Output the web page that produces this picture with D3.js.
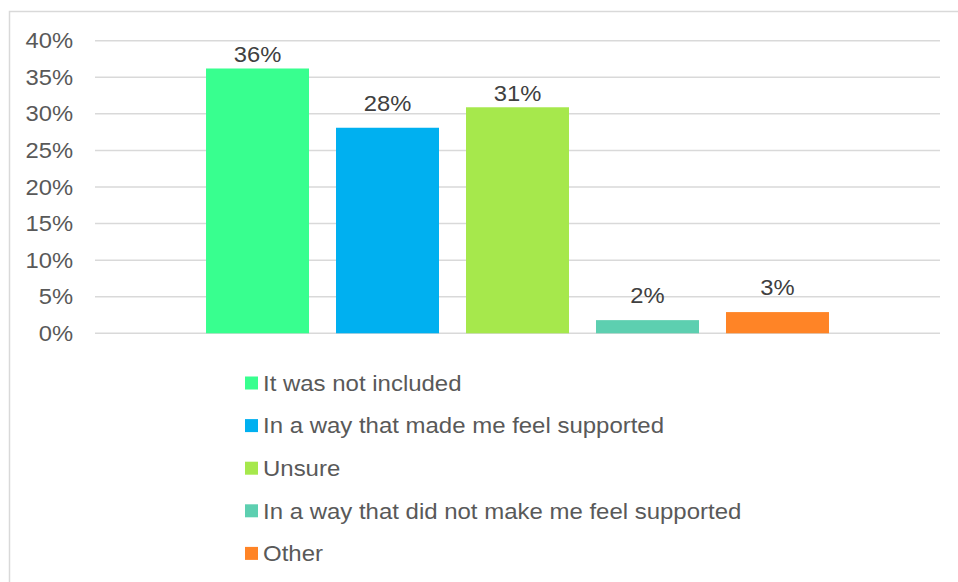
<!DOCTYPE html>
<html>
<head>
<meta charset="utf-8">
<script src="https://cdn.jsdelivr.net/npm/d3@7"></script>
<style>
  html, body { margin: 0; padding: 0; background: #fff; }
  svg { display: block; font-family: "Liberation Sans", Arial, sans-serif; }
</style>
</head>
<body>
<svg id="chart" width="958" height="582"></svg>
<script>
// Survey responses (share of respondents)
const categories = [
  "It was not included",
  "In a way that made me feel supported",
  "Unsure",
  "In a way that did not make me feel supported",
  "Other"
];
const values = [0.362, 0.281, 0.309, 0.018, 0.029];
const colors = ["#38FF8F", "#00B0F0", "#A6E84C", "#5DCFB0", "#FF8426"];
const yTicks = [0, 0.05, 0.10, 0.15, 0.20, 0.25, 0.30, 0.35, 0.40];

const FONT_SIZE = 22;
const STRETCH = 1.08;         // slightly wide text rendering
const LEGEND_STRETCH = 1.09;
const pct = d3.format(".0%");

const svg = d3.select("#chart");

// outer chart frame
svg.append("rect")
  .attr("x", 9.5).attr("y", 11.5)
  .attr("width", 980).attr("height", 600)
  .attr("fill", "none").attr("stroke", "#D9D9D9").attr("stroke-width", 1.5);

const plot = { left: 95, right: 940, top: 40.7, bottom: 333.3 };

const x = d3.scaleBand()
  .domain(categories)
  .range([plot.left, plot.right])
  .paddingInner(0.2077)
  .paddingOuter(0.854);

const y = d3.scaleLinear()
  .domain([0, 0.40])
  .range([plot.bottom, plot.top]);

// horizontal gridlines
svg.append("g")
  .selectAll("line")
  .data(yTicks)
  .join("line")
  .attr("x1", plot.left).attr("x2", plot.right)
  .attr("y1", d => y(d)).attr("y2", d => y(d))
  .attr("stroke", "#D9D9D9").attr("stroke-width", 1.5);

// y axis labels
const yAxis = d3.axisLeft(y)
  .tickValues(yTicks)
  .tickFormat(pct)
  .tickSize(0)
  .tickPadding(0);

const yg = svg.append("g")
  .attr("transform", `translate(${73},0)`)
  .call(yAxis);
yg.select(".domain").remove();
yg.selectAll("text")
  .attr("x", 0)
  .attr("transform", `scale(${STRETCH},1)`)
  .attr("fill", "#595959")
  .style("font-size", FONT_SIZE + "px")
  .style("font-family", "'Liberation Sans', Arial, sans-serif");

// bars
svg.append("g")
  .selectAll("rect")
  .data(categories)
  .join("rect")
  .attr("x", d => x(d))
  .attr("width", x.bandwidth())
  .attr("y", (d, i) => y(values[i]))
  .attr("height", (d, i) => y(0) - y(values[i]))
  .attr("fill", (d, i) => colors[i]);

// value labels; labels near the top of the plot sit closer to their bar
svg.append("g")
  .selectAll("text")
  .data(categories)
  .join("text")
  .attr("transform", (d, i) => {
    const top = y(values[i]);
    const gap = top < 110 ? 6.5 : 17;
    return `translate(${x(d) + x.bandwidth() / 2},${top - gap}) scale(${STRETCH},1)`;
  })
  .attr("text-anchor", "middle")
  .attr("fill", "#404040")
  .style("font-size", FONT_SIZE + "px")
  .text((d, i) => pct(values[i]));

// legend
const legend = svg.append("g")
  .selectAll("g")
  .data(categories)
  .join("g")
  .attr("transform", (d, i) => `translate(245,${383 + i * 42.6})`);

legend.append("rect")
  .attr("x", 0).attr("y", -6.5)
  .attr("width", 13).attr("height", 13)
  .attr("fill", (d, i) => colors[i]);

legend.append("text")
  .attr("transform", `translate(18,0) scale(${LEGEND_STRETCH},1)`)
  .attr("dy", "0.35em")
  .attr("fill", "#595959")
  .style("font-size", FONT_SIZE + "px")
  .text(d => d);
</script>
</body>
</html>
